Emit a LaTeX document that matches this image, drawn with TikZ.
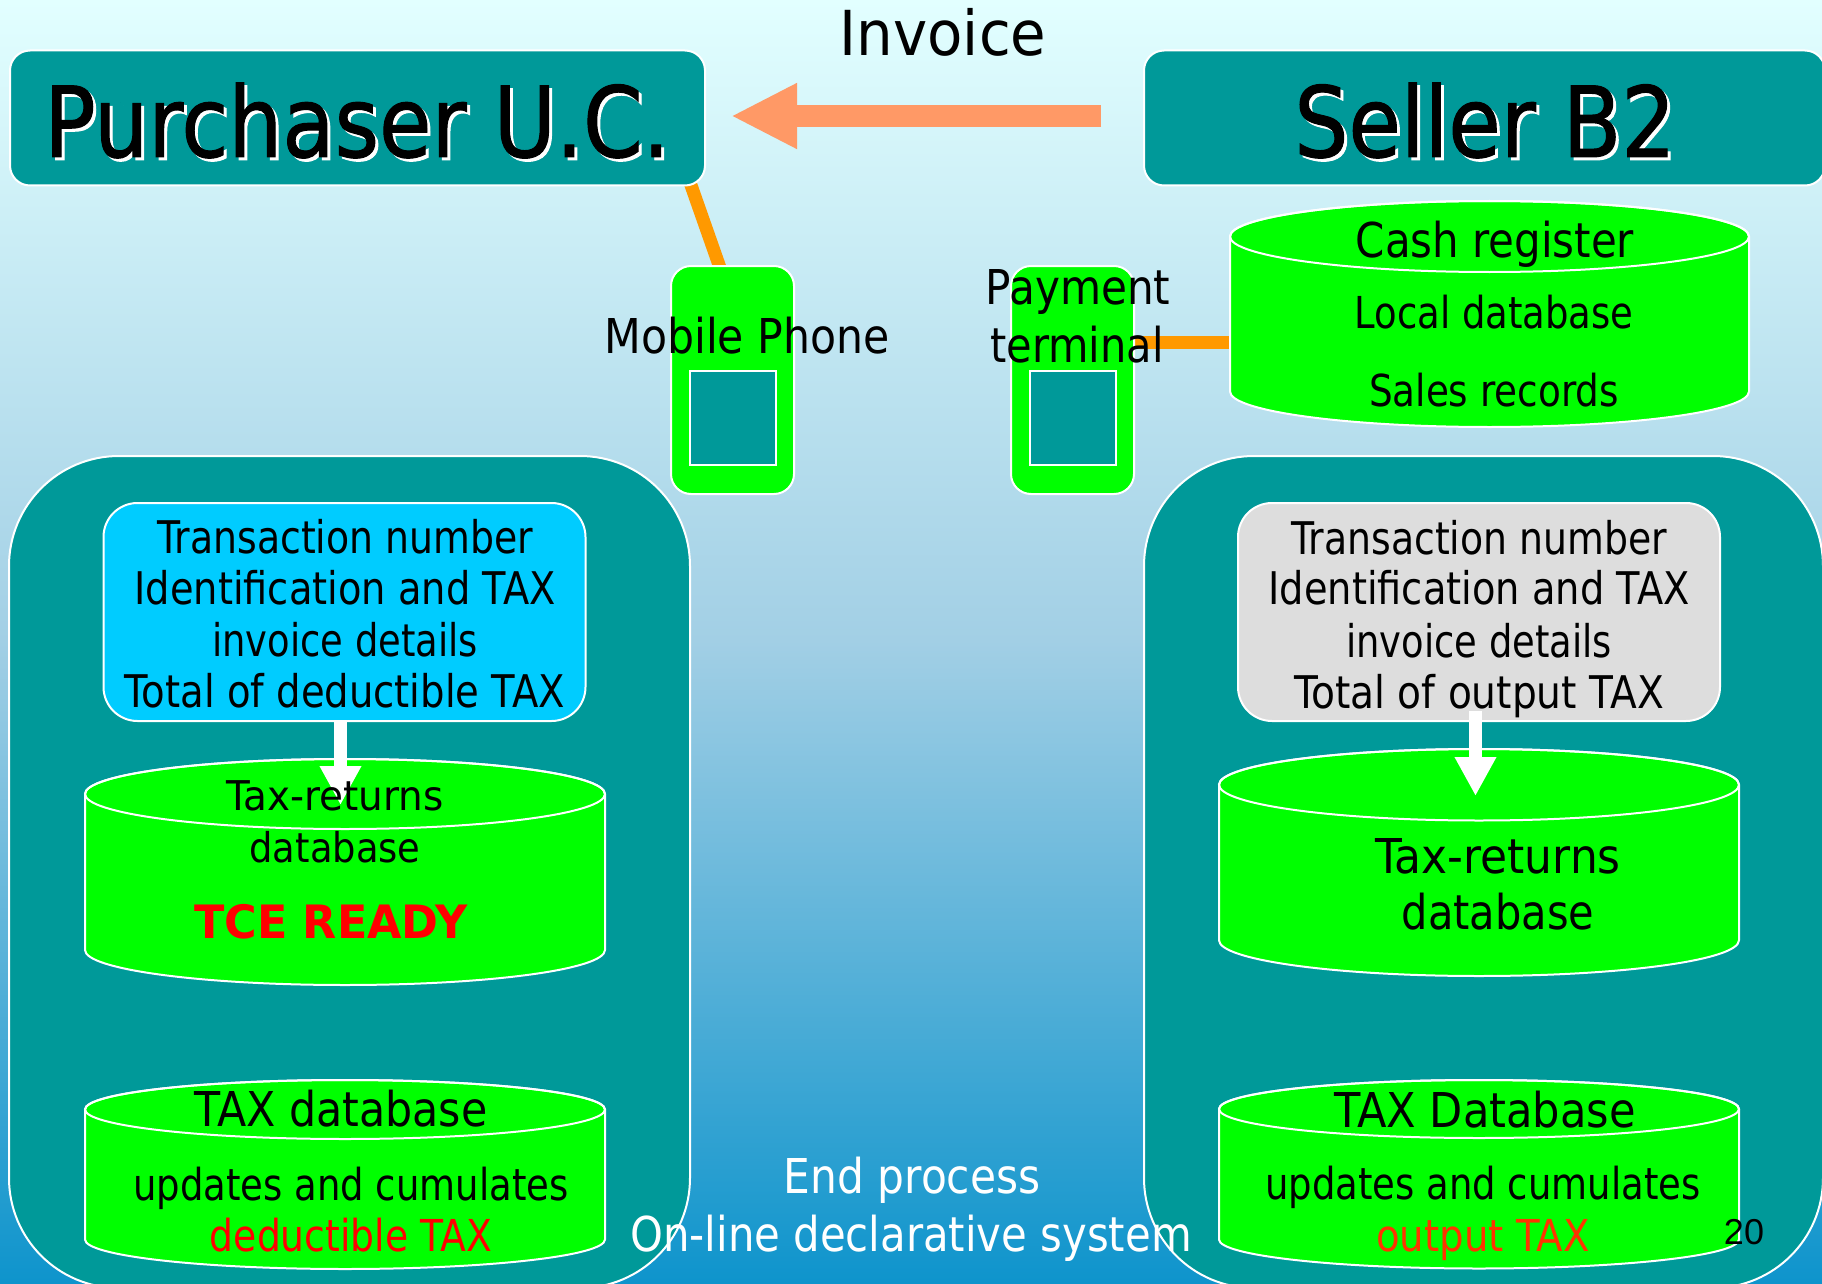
\documentclass[tikz,border=0pt]{standalone}
\usepackage{graphicx}
\usepackage{fontspec}
\setmainfont[FakeStretch=0.84]{DejaVu Sans}
\newfontfamily\titlefont[FakeStretch=0.87,FakeBold=1.0]{DejaVu Sans}
\newfontfamily\pagefont{Liberation Sans}
\usetikzlibrary{arrows.meta,calc}
\definecolor{teal1}{HTML}{009999}
\definecolor{lime1}{HTML}{00FF00}
\definecolor{sky1}{HTML}{00CCFF}
\definecolor{gray1}{HTML}{DDDDDD}
\definecolor{wireor}{HTML}{FF9900}
\definecolor{invor}{HTML}{FF9966}
\definecolor{bgtop}{HTML}{E2FFFF}
\definecolor{bgmid}{HTML}{A2CFE5}
\definecolor{bgbot}{HTML}{0E94CC}
\definecolor{red2}{HTML}{FF3300}
\pgfdeclarelayer{bg}
\pgfdeclarelayer{wires}
\pgfsetlayers{bg,wires,main}
\newcommand{\fs}[1]{\fontsize{#1}{#1}\selectfont}
\newcommand{\sx}[2]{\scalebox{#1}[1]{#2}}
\tikzset{
  x=0.5pt,y=-0.5pt,
  lbl/.style={anchor=base,inner sep=0pt,outer sep=0pt,align=center},
  box/.style={draw=white,line width=1pt,fill=#1,inner sep=0pt,outer sep=0pt},
  titlebox/.style={box=teal1,rounded corners=10pt,minimum height=67.5pt},
  panel/.style={box=teal1,rounded corners=55pt,minimum height=416pt},
  infobox/.style={box=#1,rounded corners=17pt,minimum width=241pt,minimum height=109pt},
  device/.style={box=lime1,rounded corners=10pt,minimum width=61.5pt,minimum height=114pt},
  screen/.style={box=teal1,minimum width=43pt,minimum height=47pt},
  wire/.style={draw=wireor,line width=6.5pt},
  flow/.style={draw=white,line width=6.5pt,-{Triangle[width=19.5pt,length=19.5pt]}},
  invarrow/.style={draw=invor,line width=11pt,-{Triangle[width=30.5pt,length=33pt]}},
  titletext/.style={lbl,font=\titlefont\fs{49}},
}
% name, x1, x2, top, rimbottom, bottom
\newcommand{\cyl}[6]{%
  \pgfmathsetmacro{\cx}{(#2+#3)/2}%
  \pgfmathsetmacro{\cw}{(#3-#2)/2}%
  \pgfmathsetmacro{\ry}{(#5-#4)/2}%
  \pgfmathsetmacro{\cyt}{(#4+#5)/2}%
  \pgfmathsetmacro{\cyb}{#6-\ry}%
  \pgfmathsetmacro{\cym}{(#4+#6)/2}%
  \pgfmathsetmacro{\nw}{(#3-#2)*.5}%
  \pgfmathsetmacro{\nh}{(#6-#4)*.5}%
  \path[fill=lime1,draw=white,line width=1pt]
    (#2,\cyt) -- (#2,\cyb) arc[start angle=180,end angle=360,x radius=\cw,y radius=-\ry]
    -- (#3,\cyt) arc[start angle=0,end angle=180,x radius=\cw,y radius=-\ry] -- cycle;
  \draw[white,line width=1pt] (\cx,\cyt) ellipse[x radius=\cw,y radius=\ry];
  \node[minimum width=\nw pt,minimum height=\nh pt,inner sep=0pt,outer sep=0pt] (#1) at (\cx,\cym) {};
}
\begin{document}
\begin{tikzpicture}
\useasboundingbox (0,0) rectangle (1822,1284);
\begin{pgfonlayer}{bg}
\shade[top color=bgtop,bottom color=bgmid] (0,0) rectangle (1822,641);
\shade[top color=bgmid,bottom color=bgbot] (0,640) rectangle (1822,1284);
\end{pgfonlayer}
\begin{scope}
\clip (0,0) rectangle (1822,1284);
\node[titlebox,minimum width=347.5pt] (purchaser) at (357.5,118) {};
\node[titlebox,minimum width=340.5pt] (seller) at (1484.5,118) {};
\node[panel,minimum width=340.5pt] (lpanel) at (349.5,872) {};
\node[panel,minimum width=339.5pt] (rpanel) at (1483.5,872) {};
\end{scope}

\node[device] (phone) at (732.5,380) {};
\node[screen] (phonescreen) at (733,418) {};
\node[device] (terminal) at (1072.5,380) {};
\node[screen] (termscreen) at (1073,418) {};

\cyl{cash}{1230}{1749}{201}{272}{427}

\node[infobox=sky1] (blue) at (344.5,612) {};
\node[infobox=gray1] (grey) at (1479,612) {};

\cyl{ltax}{85}{605}{759}{829}{985}
\cyl{ldb}{85}{605}{1080}{1139}{1269}
\cyl{rtax}{1219}{1739}{749}{820.5}{976}
\cyl{rdb}{1219}{1739}{1080}{1138}{1268.5}

\begin{pgfonlayer}{wires}
\draw[wire] ([xshift=-8pt,yshift=3pt]purchaser.south east) -- ([xshift=-5.5pt,yshift=-3pt]phone.north);
\draw[wire] ([yshift=18.75pt,xshift=-3pt]terminal.east) -- ([yshift=18.75pt,xshift=3pt]terminal.east -| cash.west);
\end{pgfonlayer}

\coordinate (invtail) at (1101,116);
\coordinate (invtip) at (731,116);
\draw[invarrow] (invtail) -- (invtip);
\coordinate (ltip) at (340.5,805);
\draw[flow] (blue.south -| ltip) -- (ltip);
\coordinate (rtip) at (1475.5,796);
\draw[flow] ([yshift=5pt]grey.south -| rtip) -- (rtip);

% texts
\node[titletext,text=white] (purchaser-s) at (360,160) {\sx{1.0}{Purchaser U.C.}};
\node[titletext] (purchaser-t) at (357,157) {\sx{1.0}{Purchaser U.C.}};
\node[titletext,text=white] (seller-s) at (1488,160) {Seller B2};
\node[titletext] (seller-t) at (1485,157) {Seller B2};
\node[lbl,font=\fs{31}] (invoice) at (943,56) {\sx{1.11}{Invoice}};
\node[lbl,font=\fs{24}] (mobile) at (747,353) {\sx{1.056}{Mobile Phone}};
\node[lbl,font=\fs{24}] (payment) at (1078,304) {\sx{1.046}{Payment}};
\node[lbl,font=\fs{24}] (termtext) at (1077,362) {\sx{1.03}{terminal}};
\node[lbl,font=\fs{24}] (cashtext) at (1495,257) {\sx{1.04}{Cash register}};
\node[lbl,font=\fs{22}] (localtext) at (1494,328) {Local database};
\node[lbl,font=\fs{22}] (salestext) at (1494,406) {\sx{1.01}{Sales records}};

\node[lbl,font=\fs{22.5}] (b1) at (345,553) {Transaction number};
\node[lbl,font=\fs{22.5}] (b2) at (345,604) {\sx{1.015}{Identification and TAX}};
\node[lbl,font=\fs{22.5}] (b3) at (345,656) {\sx{.975}{invoice details}};
\node[lbl,font=\fs{22.5}] (b4) at (345,707) {\sx{1.02}{Total of deductible TAX}};
\node[lbl,font=\fs{22.5}] (g1) at (1479,554) {Transaction number};
\node[lbl,font=\fs{22.5}] (g2) at (1479,604) {\sx{1.015}{Identification and TAX}};
\node[lbl,font=\fs{22.5}] (g3) at (1479,657) {\sx{.975}{invoice details}};
\node[lbl,font=\fs{22.5}] (g4) at (1479,708) {\sx{1.035}{Total of output TAX}};

\node[lbl,font=\fs{20.5}] (lt1) at (335,810) {\sx{1.13}{Tax-returns}};
\node[lbl,font=\fs{20.5}] (lt2) at (335,862) {\sx{1.07}{database}};
\node[lbl,font=\bfseries\fs{23},text=red] (tce) at (331,938) {\sx{1.15}{TCE READY}};
\node[lbl,font=\fs{24}] (lb1) at (341,1126) {\sx{1.06}{TAX database}};
\node[lbl,font=\fs{22}] (lb2) at (351,1200) {updates and cumulates};
\node[lbl,font=\fs{22},text=red] (lb3) at (351,1251) {\sx{1.02}{deductible TAX}};

\node[lbl,font=\fs{24}] (rt1) at (1498,873) {\sx{1.09}{Tax-returns}};
\node[lbl,font=\fs{24}] (rt2) at (1498,929) {\sx{1.03}{database}};
\node[lbl,font=\fs{24}] (rb1) at (1485,1127) {\sx{1.07}{TAX Database}};
\node[lbl,font=\fs{22}] (rb2) at (1483,1199) {updates and cumulates};
\node[lbl,font=\fs{22},text=red2] (rb3) at (1483,1251) {\sx{1.046}{output TAX}};

\node[lbl,font=\fs{24},text=white] (end1) at (912,1193) {\sx{1.05}{End process}};
\node[lbl,font=\fs{24},text=white] (end2) at (911,1251) {\sx{1.037}{On-line declarative system}};
\node[lbl,font=\pagefont\fs{18}] (pageno) at (1744,1244) {20};
\end{tikzpicture}
\end{document}
